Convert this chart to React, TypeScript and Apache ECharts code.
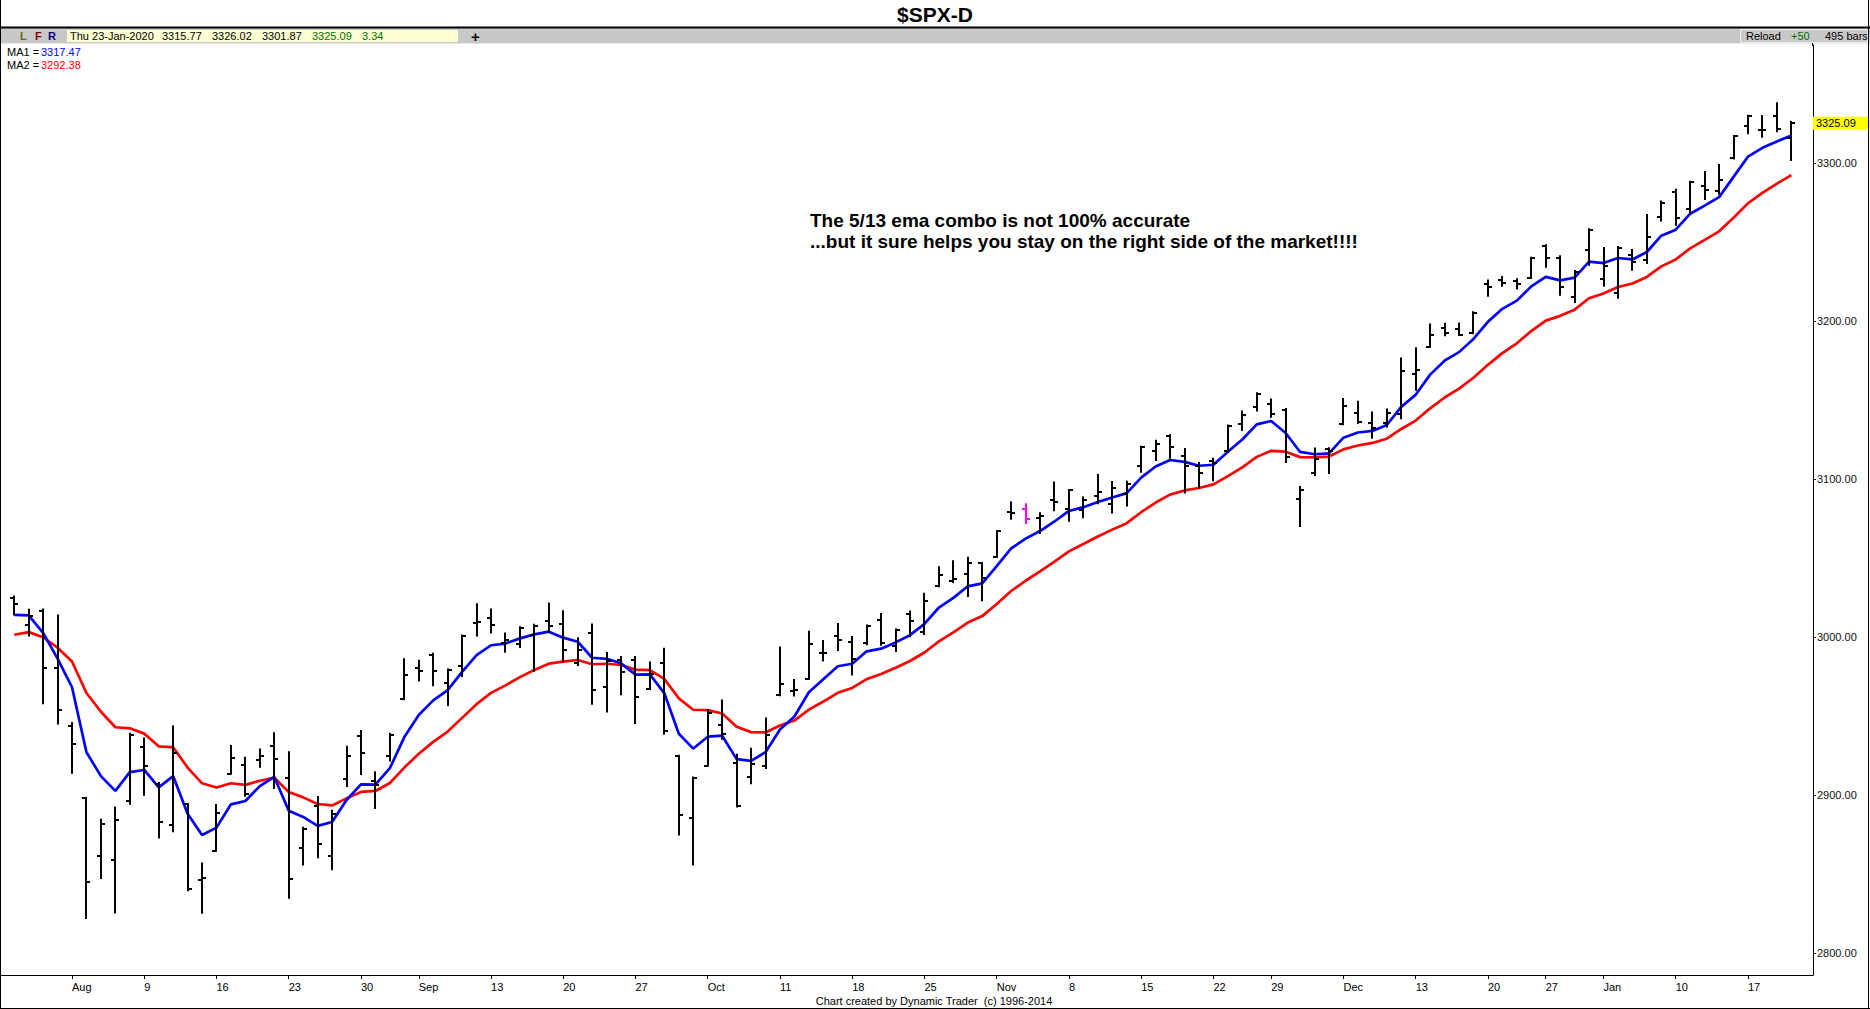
import React, { useEffect, useRef } from "react";
import * as echarts from "echarts";

const dates = [
  "2019-07-29","2019-07-30","2019-07-31",
  "2019-08-01","2019-08-02","2019-08-05","2019-08-06","2019-08-07","2019-08-08","2019-08-09","2019-08-12","2019-08-13","2019-08-14","2019-08-15","2019-08-16","2019-08-19","2019-08-20","2019-08-21","2019-08-22","2019-08-23","2019-08-26","2019-08-27","2019-08-28","2019-08-29","2019-08-30",
  "2019-09-03","2019-09-04","2019-09-05","2019-09-06","2019-09-09","2019-09-10","2019-09-11","2019-09-12","2019-09-13","2019-09-16","2019-09-17","2019-09-18","2019-09-19","2019-09-20","2019-09-23","2019-09-24","2019-09-25","2019-09-26","2019-09-27","2019-09-30",
  "2019-10-01","2019-10-02","2019-10-03","2019-10-04","2019-10-07","2019-10-08","2019-10-09","2019-10-10","2019-10-11","2019-10-14","2019-10-15","2019-10-16","2019-10-17","2019-10-18","2019-10-21","2019-10-22","2019-10-23","2019-10-24","2019-10-25","2019-10-28","2019-10-29","2019-10-30","2019-10-31",
  "2019-11-01","2019-11-04","2019-11-05","2019-11-06","2019-11-07","2019-11-08","2019-11-11","2019-11-12","2019-11-13","2019-11-14","2019-11-15","2019-11-18","2019-11-19","2019-11-20","2019-11-21","2019-11-22","2019-11-25","2019-11-26","2019-11-27","2019-11-29",
  "2019-12-02","2019-12-03","2019-12-04","2019-12-05","2019-12-06","2019-12-09","2019-12-10","2019-12-11","2019-12-12","2019-12-13","2019-12-16","2019-12-17","2019-12-18","2019-12-19","2019-12-20","2019-12-23","2019-12-24","2019-12-26","2019-12-27","2019-12-30","2019-12-31",
  "2020-01-02","2020-01-03","2020-01-06","2020-01-07","2020-01-08","2020-01-09","2020-01-10","2020-01-13","2020-01-14","2020-01-15","2020-01-16","2020-01-17","2020-01-21","2020-01-22","2020-01-23",
];

const opens = [
  3024.47,3007.66,3016.22,
  2980.32,2943.90,2898.07,2861.18,2858.65,2896.21,2930.51,2907.07,2880.72,2894.15,2846.20,2864.74,2913.48,2919.01,2922.04,2930.94,2911.07,2866.70,2893.14,2861.28,2910.37,2937.09,
  2909.01,2924.67,2960.60,2980.33,2988.43,2971.01,2981.41,3009.08,3012.21,2996.41,2995.67,3001.50,3010.36,3008.42,2983.50,3002.43,2968.35,2985.73,2985.47,2967.07,
  2983.69,2924.78,2885.38,2918.56,2944.23,2920.40,2911.10,2918.55,2963.07,2965.81,2973.61,2989.68,3000.77,2996.84,2996.48,3010.73,2994.01,3014.78,3003.32,3032.12,3035.39,3039.74,3046.90,
  3050.72,3078.96,3080.80,3075.10,3087.02,3081.25,3080.33,3089.28,3084.18,3090.75,3107.92,3117.91,3127.45,3114.66,3108.49,3111.41,3117.44,3134.85,3145.49,3147.18,
  3143.85,3087.41,3103.50,3119.21,3134.62,3141.86,3135.36,3135.75,3141.23,3166.65,3183.63,3195.40,3195.21,3192.32,3223.33,3226.05,3225.45,3227.20,3247.23,3240.09,3215.18,
  3244.67,3226.36,3217.55,3241.86,3238.59,3266.03,3281.81,3271.13,3285.35,3282.27,3302.97,3323.66,3321.03,3330.02,3315.77,
];

const highs = [
  3025.61,3017.19,3017.40,
  3013.59,2945.50,2898.07,2884.40,2892.17,2938.72,2935.75,2907.58,2943.31,2894.15,2856.67,2893.63,2931.00,2923.63,2928.73,2939.08,2927.01,2879.27,2898.79,2890.03,2930.50,2940.43,
  2914.39,2938.84,2985.86,2985.03,2989.43,2979.39,3000.93,3020.74,3017.33,3002.19,3006.21,3007.83,3021.19,3016.37,2999.15,3007.98,2989.82,2987.28,2987.31,2983.85,
  2992.53,2924.78,2911.13,2953.74,2959.75,2925.47,2929.32,2948.46,2993.28,2972.84,3003.28,2997.54,3008.29,3000.00,3007.33,3014.57,3004.78,3016.07,3027.39,3044.08,3047.87,3050.10,3046.90,
  3066.95,3085.20,3083.95,3078.34,3097.77,3093.09,3088.33,3102.61,3098.06,3098.20,3120.46,3124.17,3127.64,3118.97,3110.11,3112.87,3133.83,3142.69,3154.26,3150.30,
  3144.31,3094.97,3119.38,3119.45,3150.60,3148.87,3142.12,3143.98,3176.28,3182.68,3197.71,3198.22,3198.48,3205.48,3225.65,3227.78,3226.43,3240.08,3247.93,3240.92,3231.72,
  3258.14,3246.15,3246.84,3244.91,3267.07,3275.58,3282.99,3288.13,3294.25,3298.66,3317.11,3329.88,3329.79,3337.77,3326.02,
];

const lows = [
  3014.30,3000.94,2958.08,
  2945.23,2914.11,2822.12,2847.42,2825.71,2894.47,2900.15,2873.14,2877.05,2839.64,2825.51,2864.74,2913.48,2899.60,2917.91,2904.51,2834.97,2856.00,2860.59,2853.05,2905.67,2913.32,
  2891.85,2921.86,2960.60,2972.51,2969.39,2957.01,2975.31,3000.92,3002.90,2990.67,2993.73,2978.57,3003.16,2984.68,2982.23,2957.73,2952.86,2963.71,2945.53,2967.07,
  2938.70,2874.93,2855.94,2918.56,2935.68,2892.66,2907.41,2917.12,2963.07,2962.94,2973.61,2985.20,2991.79,2976.31,2995.35,2995.04,2991.21,3000.42,3001.94,3032.12,3034.81,3025.96,3023.19,
  3050.72,3074.87,3072.15,3065.89,3080.23,3073.58,3075.82,3084.73,3078.80,3083.26,3104.60,3112.06,3113.47,3091.41,3094.55,3099.26,3117.44,3131.00,3143.41,3139.34,
  3110.78,3070.33,3102.53,3103.76,3134.62,3135.46,3126.09,3133.21,3138.47,3156.51,3183.63,3191.03,3191.14,3192.32,3216.03,3222.30,3220.51,3227.20,3234.37,3216.57,3212.03,
  3235.53,3222.34,3214.64,3232.43,3236.67,3263.67,3260.86,3268.43,3277.19,3280.69,3302.82,3318.86,3316.61,3320.04,3301.87,
];

const closes = [
  3020.97,3013.18,2980.38,
  2953.56,2932.05,2844.74,2881.77,2883.98,2938.09,2918.65,2882.70,2926.32,2840.60,2847.60,2888.68,2923.65,2900.51,2924.43,2922.95,2847.11,2878.38,2869.16,2887.94,2924.58,2926.46,
  2906.27,2937.78,2976.00,2978.71,2978.43,2979.39,3000.93,3009.57,3007.39,2997.96,3005.70,3006.73,3006.79,2992.07,2991.78,2966.60,2984.87,2977.62,2961.79,2976.74,
  2940.25,2887.61,2910.63,2952.01,2938.79,2893.06,2919.40,2938.13,2970.27,2966.15,2995.68,2989.69,2997.95,2986.20,3006.72,2995.99,3004.52,3010.29,3022.55,3039.42,3036.89,3046.77,3037.56,
  3066.91,3078.27,3074.62,3076.78,3085.18,3093.08,3087.01,3091.84,3094.04,3096.63,3120.46,3122.03,3120.18,3108.46,3103.54,3110.29,3133.64,3140.52,3153.63,3140.98,
  3113.87,3093.20,3112.76,3117.43,3145.91,3135.96,3132.52,3141.63,3168.57,3168.80,3191.45,3192.52,3191.14,3205.37,3221.22,3224.01,3223.38,3239.91,3240.02,3221.29,3230.78,
  3257.85,3234.85,3246.28,3237.18,3253.05,3274.70,3265.35,3288.13,3283.15,3289.29,3316.81,3329.62,3320.79,3321.75,3325.09,
];

// MA1 (5-bar EMA, blue) and MA2 (13-bar EMA, red)
const ma1 = [
  3014.02,3013.74,3002.62,2986.27,2968.20,2927.05,2911.96,2902.63,2914.45,2915.85,
  2904.80,2911.97,2888.18,2874.65,2879.33,2894.10,2896.24,2905.64,2911.41,2889.98,
  2886.11,2880.46,2882.95,2896.83,2906.71,2906.56,2916.97,2936.65,2950.67,2959.92,
  2966.41,2977.92,2988.47,2994.78,2995.84,2999.13,3001.66,3003.37,2999.60,2996.99,
  2986.86,2986.20,2983.34,2976.16,2976.35,2964.32,2938.75,2929.38,2936.92,2937.54,
  2922.71,2921.61,2927.12,2941.50,2949.72,2965.04,2973.26,2981.49,2983.06,2990.95,
  2992.63,2996.59,3001.16,3008.29,3018.67,3024.74,3032.08,3033.91,3044.91,3056.03,
  3062.23,3067.08,3073.11,3079.77,3082.18,3085.40,3088.28,3091.06,3100.86,3107.92,
  3112.01,3110.83,3108.40,3109.03,3117.23,3124.99,3134.54,3136.69,3129.08,3117.12,
  3115.67,3116.26,3126.14,3129.41,3130.45,3134.18,3145.64,3153.36,3166.06,3174.88,
  3180.30,3188.66,3199.51,3207.68,3212.91,3221.91,3227.95,3225.73,3227.41,3237.56,
  3236.66,3239.87,3238.97,3243.66,3254.01,3257.79,3267.90,3272.98,3278.42,3291.22,
  3304.02,3309.61,3313.66,3317.47,
];

const ma2 = [
  3001.42,3003.10,2999.85,2993.24,2984.50,2964.53,2952.71,2942.89,2942.20,2938.84,
  2930.82,2930.18,2917.38,2907.41,2904.73,2907.43,2906.44,2909.01,2911.00,2901.87,
  2898.51,2894.32,2893.41,2897.86,2901.95,2902.57,2907.60,2917.37,2926.13,2933.60,
  2940.14,2948.82,2957.50,2964.63,2969.39,2974.58,2979.17,2983.12,2984.40,2985.45,
  2982.76,2983.06,2982.28,2979.35,2978.98,2973.45,2961.19,2953.97,2953.69,2951.56,
  2943.20,2939.80,2939.56,2943.95,2947.12,2954.06,2959.15,2964.69,2967.76,2973.33,
  2976.57,2980.56,2984.81,2990.20,2997.23,3002.90,3009.17,3013.23,3020.90,3029.10,
  3035.60,3041.48,3047.72,3054.20,3058.89,3063.60,3067.95,3072.05,3078.97,3085.12,
  3090.13,3092.75,3094.29,3096.58,3101.87,3107.39,3114.00,3117.85,3117.28,3113.84,
  3113.69,3114.22,3118.75,3121.21,3122.83,3125.52,3131.67,3136.97,3144.75,3151.57,
  3157.22,3164.10,3172.26,3179.65,3185.90,3193.62,3200.25,3203.26,3207.19,3214.43,
  3217.35,3221.48,3223.72,3227.91,3234.59,3238.98,3246.00,3251.31,3256.74,3265.32,
  3274.51,3281.12,3286.92,3292.38,
];

const tickDates = [
  "2019-08-02","2019-08-09","2019-08-16","2019-08-23","2019-08-30",
  "2019-09-06","2019-09-13","2019-09-20","2019-09-27",
  "2019-10-04","2019-10-11","2019-10-18","2019-10-25",
  "2019-11-01","2019-11-08","2019-11-15","2019-11-22","2019-11-29",
  "2019-12-06","2019-12-13","2019-12-20","2019-12-27",
  "2020-01-03","2020-01-10","2020-01-17",
];
const tickLabels = [
  "Aug","9","16","23","30",
  "Sep","13","20","27",
  "Oct","11","18","25",
  "Nov","8","15","22","29",
  "Dec","13","20","27",
  "Jan","10","17",
];
const priceTicks = [2800, 2900, 3000, 3100, 3200, 3300];
const highlightDates = ["2019-11-05"];

const title = "$SPX-D";
const infoDate = "Thu 23-Jan-2020";
const infoValues = ["3315.77", "3326.02", "3301.87"];
const infoClose = "3325.09";
const infoChange = "3.34";
const ma1Label = "3317.47";
const ma2Label = "3292.38";
const lastPrice = 3325.09;
const noteLines = [
  "The 5/13 ema combo is not 100% accurate",
  "...but it sure helps you stay on the right side of the market!!!!",
];
const footer = "Chart created by Dynamic Trader  (c) 1996-2014";

const FONT = '"Liberation Sans", Arial, sans-serif';

function txt(text: string, x: number, y: number, opts: any = {}) {
  return {
    type: "text",
    x,
    y,
    silent: true,
    z: 100,
    style: {
      text,
      fill: opts.fill || "#000",
      fontSize: opts.fontSize || 11,
      fontWeight: opts.fontWeight || "normal",
      fontFamily: FONT,
      textAlign: opts.align || "left",
      textVerticalAlign: "middle",
    },
  };
}

function hline(x1: number, x2: number, y: number, stroke = "#000", lineWidth = 1) {
  return { type: "line", silent: true, z: 90, shape: { x1, y1: y, x2, y2: y }, style: { stroke, lineWidth } };
}
function vline(x: number, y1: number, y2: number, stroke = "#000", lineWidth = 1) {
  return { type: "line", silent: true, z: 90, shape: { x1: x, y1, x2: x, y2 }, style: { stroke, lineWidth } };
}

export default function App() {
  const ref = useRef<HTMLDivElement>(null);

  useEffect(() => {
    document.body.style.margin = "0";
    if (!ref.current) return;
    const chart = echarts.init(ref.current, undefined, { renderer: "svg" });

    const labelMap: Record<string, string> = {};
    tickDates.forEach((d, i) => (labelMap[d] = tickLabels[i]));
    const tickSet = new Set(tickDates);
    const hiSet = new Set(highlightDates);

    const ohlc = dates.map((d, i) => [i, opens[i], highs[i], lows[i], closes[i], hiSet.has(d) ? 1 : 0]);

    const graphic: any[] = [
      // toolbar
      { type: "rect", silent: true, z: 80, shape: { x: 0, y: 28, width: 1870, height: 15 }, style: { fill: "#c8c8c8" } },
      hline(0, 1870, 27.5, "#000", 2),
      hline(0, 1870, 43.5, "#e8e8e8", 1),
      { type: "rect", silent: true, z: 85, shape: { x: 67, y: 30, width: 391, height: 12 }, style: { fill: "#ffffd2" } },
      { type: "rect", silent: true, z: 85, shape: { x: 1740.5, y: 29.5, width: 127, height: 13 }, style: { fill: "#c8c8c8", stroke: "#eeeeee", lineWidth: 1 } },
      txt("L", 20, 36, { fill: "#6b6b00", fontWeight: "bold" }),
      txt("F", 35, 36, { fill: "#800000", fontWeight: "bold" }),
      txt("R", 48, 36, { fill: "#000080", fontWeight: "bold" }),
      txt(infoDate, 70, 36),
      txt(infoValues[0], 162, 36),
      txt(infoValues[1], 212, 36),
      txt(infoValues[2], 262, 36),
      txt(infoClose, 312, 36, { fill: "#007000" }),
      txt(infoChange, 362, 36, { fill: "#007000" }),
      txt("+", 471, 36, { fontSize: 15, fontWeight: "bold" }),
      txt("Reload", 1746, 36),
      txt("+50", 1791, 36, { fill: "#007000" }),
      txt("495 bars", 1825, 36),
      // title
      txt(title, 935, 14, { fontSize: 21, fontWeight: "bold", align: "center" }),
      // MA legend
      txt("MA1 =", 7, 52),
      txt(ma1Label, 41, 52, { fill: "#0000ff" }),
      txt("MA2 =", 7, 65),
      txt(ma2Label, 41, 65, { fill: "#ff0000" }),
      // annotation
      txt(noteLines[0], 810, 220, { fontSize: 19, fontWeight: "bold" }),
      txt(noteLines[1], 810, 241, { fontSize: 19, fontWeight: "bold" }),
      // footer
      txt(footer, 934, 1001, { fontSize: 11, align: "center" }),
      // frame
      vline(0.5, 0, 1009, "#000", 1),
      vline(1868.5, 0, 1009, "#000", 1),
      hline(0, 1870, 1008.5, "#000", 1),
      hline(0, 8, 975.5, "#000", 1),
      vline(1812.5, 43, 46, "#000", 1),
    ];

    const option: any = {
      animation: false,
      backgroundColor: "#ffffff",
      grid: { left: 7, right: 57, top: 45, bottom: 34, containLabel: false },
      xAxis: {
        type: "category",
        data: [...dates, ""],
        boundaryGap: true,
        axisLine: { show: true, lineStyle: { color: "#000", width: 1 } },
        axisTick: {
          show: true,
          alignWithLabel: true,
          length: 4,
          interval: (_i: number, v: string) => tickSet.has(v),
          lineStyle: { color: "#000" },
        },
        axisLabel: {
          show: true,
          interval: (_i: number, v: string) => tickSet.has(v),
          formatter: (v: string) => labelMap[v] || "",
          align: "left",
          margin: 6,
          fontSize: 11,
          color: "#000",
          fontFamily: FONT,
        },
        splitLine: { show: false },
      },
      yAxis: {
        type: "value",
        position: "right",
        min: 2786.08,
        max: 3374.68,
        axisLine: { show: true, lineStyle: { color: "#000", width: 1 } },
        axisTick: { show: true, length: 3, customValues: priceTicks, lineStyle: { color: "#000" } },
        axisLabel: {
          show: true,
          customValues: priceTicks,
          formatter: (v: number) => v.toFixed(2),
          margin: 4,
          fontSize: 11,
          color: "#111",
          fontFamily: FONT,
        },
        splitLine: { show: false },
      },
      graphic,
      series: [
        {
          name: "MA2",
          type: "line",
          data: ma2,
          symbol: "none",
          z: 2,
          lineStyle: { color: "#ff0000", width: 2.7 },
          itemStyle: { color: "#ff0000" },
        },
        {
          name: "MA1",
          type: "line",
          data: ma1,
          symbol: "none",
          z: 3,
          lineStyle: { color: "#0000ff", width: 2.7 },
          itemStyle: { color: "#0000ff" },
          markLine: {
            silent: true,
            symbol: "none",
            animation: false,
            lineStyle: { color: "rgba(0,0,0,0)", width: 1 },
            data: [{ yAxis: lastPrice }],
            label: {
              show: true,
              position: "end",
              distance: 0,
              formatter: () => lastPrice.toFixed(2),
              backgroundColor: "#ffff00",
              color: "#000",
              fontSize: 11,
              fontFamily: FONT,
              padding: [1, 16, 1, 3],
            },
          },
        },
        {
          name: "SPX",
          type: "custom",
          z: 5,
          data: ohlc,
          encode: { x: 0, y: [1, 2, 3, 4] },
          renderItem: (_params: any, api: any) => {
            const i = api.value(0);
            const pH = api.coord([i, api.value(2)]);
            const pL = api.coord([i, api.value(3)]);
            const pO = api.coord([i, api.value(1)]);
            const pC = api.coord([i, api.value(4)]);
            const x = Math.round(pH[0]);
            const color = api.value(5) ? "#ff00ff" : "#000000";
            const st = { stroke: color, lineWidth: 2 };
            return {
              type: "group",
              children: [
                { type: "line", shape: { x1: x, y1: pH[1] - 1, x2: x, y2: pL[1] + 1 }, style: st },
                { type: "line", shape: { x1: x - 4, y1: Math.round(pO[1]), x2: x, y2: Math.round(pO[1]) }, style: st },
                { type: "line", shape: { x1: x, y1: Math.round(pC[1]), x2: x + 4, y2: Math.round(pC[1]) }, style: st },
              ],
            };
          },
        },
      ],
    };

    chart.setOption(option);
    return () => chart.dispose();
  }, []);

  return <div ref={ref} style={{ width: 1870, height: 1009 }} />;
}
